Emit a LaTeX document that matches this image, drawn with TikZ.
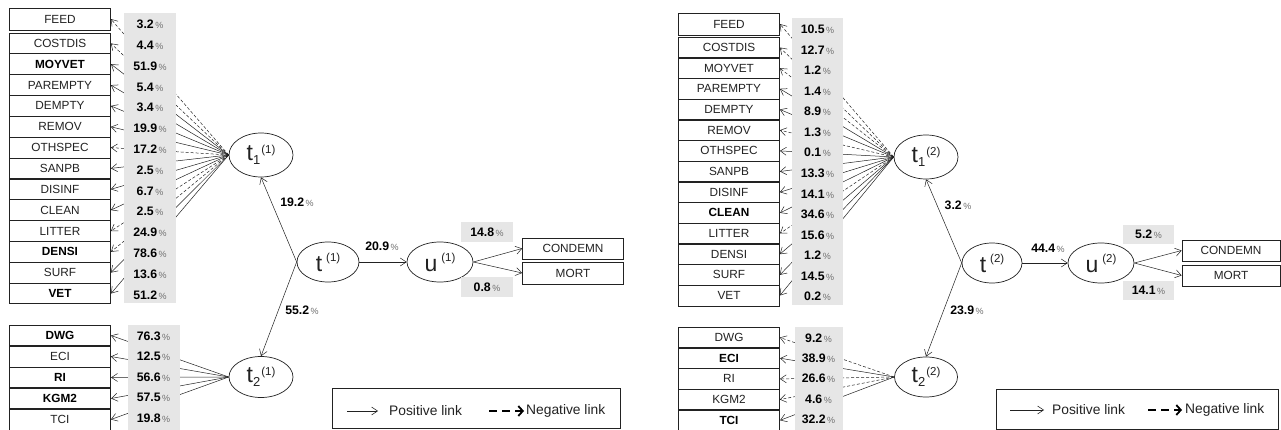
\documentclass[tikz,border=0pt]{standalone}
\usepackage{fontspec}
\setmainfont{Liberation Sans}
\usetikzlibrary{shapes.geometric,arrows.meta}
\definecolor{greyfill}{HTML}{E6E6E6}
\definecolor{inkc}{HTML}{222222}
\definecolor{pctgrey}{HTML}{707070}
\newcommand{\pct}[1]{\textbf{#1}{\fontsize{9}{9}\selectfont\color{pctgrey}\,\%}}
\newcommand{\latsub}[3]{{\fontsize{23}{23}\selectfont #1}\raisebox{-3.5pt}{\fontsize{13}{13}\selectfont #2}\hspace{1pt}\raisebox{7pt}{\fontsize{11.5}{11.5}\selectfont #3}}
\newcommand{\latsup}[2]{{\fontsize{23}{23}\selectfont #1}\hspace{4pt}\raisebox{10pt}{\fontsize{11.5}{11.5}\selectfont #2}}
\tikzset{
 varbox/.style={draw=inkc, line width=0.7pt, minimum width=101pt, minimum height=20.8pt, inner sep=0pt, font=\fontsize{11.8}{11.8}\selectfont, text=inkc},
 boldbox/.style={varbox, line width=1.1pt, font=\fontsize{11.8}{11.8}\selectfont\bfseries, text=black},
 lat/.style={ellipse, draw=inkc, line width=0.7pt, inner sep=0pt, minimum width=64pt, minimum height=44pt, text=inkc},
 pctlab/.style={font=\fontsize{12.3}{12.3}\selectfont, inner sep=0pt, text=black},
 pctbox/.style={pctlab, fill=greyfill, minimum width=52pt, minimum height=20pt},
 link/.style={draw=inkc, line width=0.5pt, -{Straight Barb[length=6pt,width=8pt]}},
 neg/.style={link, dash pattern=on 3pt off 2pt},
 legtext/.style={anchor=west, font=\fontsize{13.8}{13.8}\selectfont, text=inkc, inner sep=0pt},
 legbox/.style={draw=inkc, line width=0.7pt, inner sep=0pt, minimum height=40pt},
 negleg/.style={draw=black, line width=1.8pt, dash pattern=on 8pt off 5pt, -{Straight Barb[length=4.5pt,width=10pt]}},
}
\begin{document}
\begin{tikzpicture}[x=1pt,y=-1pt]
\useasboundingbox (0,0) rectangle (1281,430);
\fill[white] (0,0) rectangle (1281,430);

% ---------------- LEFT PANEL ----------------
\node[varbox, minimum height=22pt] (Lfeed) at (60,19) {FEED};
\node[varbox] (Lcostdis) at (60,43.4) {COSTDIS};
\node[boldbox] (Lmoyvet) at (60,64.2) {MOYVET};
\node[varbox] (Lparempty) at (60,85.1) {PAREMPTY};
\node[varbox] (Ldempty) at (60,105.9) {DEMPTY};
\node[varbox] (Lremov) at (60,126.8) {REMOV};
\node[varbox] (Lothspec) at (60,147.6) {OTHSPEC};
\node[varbox] (Lsanpb) at (60,168.4) {SANPB};
\node[varbox] (Ldisinf) at (60,189.3) {DISINF};
\node[varbox] (Lclean) at (60,210.1) {CLEAN};
\node[varbox] (Llitter) at (60,231.0) {LITTER};
\node[boldbox] (Ldensi) at (60,251.8) {DENSI};
\node[varbox] (Lsurf) at (60,272.6) {SURF};
\node[boldbox] (Lvet) at (60,293.5) {VET};

\node[boldbox] (Ldwg) at (60,335.5) {DWG};
\node[varbox] (Leci) at (60,356.5) {ECI};
\node[boldbox] (Lri) at (60,377.5) {RI};
\node[boldbox] (Lkgm) at (60,398.5) {KGM2};
\node[varbox] (Ltci) at (60,419.5) {TCI};

\node[lat] (Lt1) at (261,155) {\latsub{t}{1}{(1)}};
\node[lat, minimum width=62pt, minimum height=40pt] (Lt) at (328,262) {\latsup{t}{(1)}};
\node[lat, minimum width=66pt, minimum height=40pt] (Lu) at (440,262) {\latsup{u}{(1)}};
\node[lat, minimum height=41pt] (Lt2) at (261,377) {\latsub{t}{2}{(1)}};

\node[varbox] (Lcond) at (573,248.5) {CONDEMN};
\node[varbox, minimum height=22pt] (Lmort) at (573,273) {MORT};

\draw[neg] (Lt1.west) -- (Lfeed.east);
\draw[neg] (Lt1.west) -- (Lcostdis.east);
\draw[link] (Lt1.west) -- (Lmoyvet.east);
\draw[link] (Lt1.west) -- (Lparempty.east);
\draw[link] (Lt1.west) -- (Ldempty.east);
\draw[link] (Lt1.west) -- (Lremov.east);
\draw[neg] (Lt1.west) -- (Lothspec.east);
\draw[link] (Lt1.west) -- (Lsanpb.east);
\draw[link] (Lt1.west) -- (Ldisinf.east);
\draw[link] (Lt1.west) -- (Lclean.east);
\draw[neg] (Lt1.west) -- (Llitter.east);
\draw[neg] (Lt1.west) -- (Ldensi.east);
\draw[link] (Lt1.west) -- (Lsurf.east);
\draw[link] (Lt1.west) -- (Lvet.east);

\draw[link] (Lt2.west) -- (Ldwg.east);
\draw[link] (Lt2.west) -- (Leci.east);
\draw[link] (Lt2.west) -- (Lri.east);
\draw[link] (Lt2.west) -- (Lkgm.east);
\draw[link] (Lt2.west) -- (Ltci.east);

\draw[link] (Lt.west) -- (Lt1.south);
\draw[link] (Lt.west) -- (Lt2.north);
\draw[link] (Lt.east) -- (Lu.west);
\draw[link] (Lu.east) -- (Lcond.west);
\draw[link] (Lu.east) -- (Lmort.west);

\fill[greyfill] (124,13) rectangle (176,303);
\fill[greyfill] (128,325) rectangle (180,431);

\node[pctlab] (Lp1) at (150,24.5) {\pct{3.2}};
\node[pctlab] (Lp2) at (150,45.3) {\pct{4.4}};
\node[pctlab] (Lp3) at (150,66.1) {\pct{51.9}};
\node[pctlab] (Lp4) at (150,86.9) {\pct{5.4}};
\node[pctlab] (Lp5) at (150,107.7) {\pct{3.4}};
\node[pctlab] (Lp6) at (150,128.5) {\pct{19.9}};
\node[pctlab] (Lp7) at (150,149.3) {\pct{17.2}};
\node[pctlab] (Lp8) at (150,170.1) {\pct{2.5}};
\node[pctlab] (Lp9) at (150,190.9) {\pct{6.7}};
\node[pctlab] (Lp10) at (150,211.7) {\pct{2.5}};
\node[pctlab] (Lp11) at (150,232.5) {\pct{24.9}};
\node[pctlab] (Lp12) at (150,253.3) {\pct{78.6}};
\node[pctlab] (Lp13) at (150,274.1) {\pct{13.6}};
\node[pctlab] (Lp14) at (150,294.9) {\pct{51.2}};

\node[pctlab] (Lq1) at (153.5,336) {\pct{76.3}};
\node[pctlab] (Lq2) at (153.5,356.6) {\pct{12.5}};
\node[pctlab] (Lq3) at (153.5,377.2) {\pct{56.6}};
\node[pctlab] (Lq4) at (153.5,397.8) {\pct{57.5}};
\node[pctlab] (Lq5) at (153.5,418.4) {\pct{19.8}};

\node[pctlab] (Le1) at (297,202) {\pct{19.2}};
\node[pctlab] (Le2) at (382,246) {\pct{20.9}};
\node[pctlab] (Le3) at (302,310) {\pct{55.2}};
\node[pctbox] (Lpc) at (487,232) {\pct{14.8}};
\node[pctbox] (Lpm) at (487,287) {\pct{0.8}};

\node[legbox, minimum width=288pt] (Lleg) at (476,408) {};
\coordinate (LlegA) at (347,411);
\coordinate (LlegB) at (378,411);
\draw[link] (LlegA) -- (LlegB);
\node[legtext] (LlegPos) at (389,411) {Positive link};
\coordinate (LlegC) at (489,411);
\coordinate (LlegD) at (524,411);
\draw[negleg] (LlegC) -- (LlegD);
\node[legtext] (LlegNeg) at (526,411) {Negative link};

% ---------------- RIGHT PANEL ----------------
\node[varbox, minimum height=22pt] (Rfeed) at (729,24) {FEED};
\node[varbox] (Rcostdis) at (729,47.5) {COSTDIS};
\node[varbox] (Rmoyvet) at (729,68.2) {MOYVET};
\node[varbox] (Rparempty) at (729,88.8) {PAREMPTY};
\node[varbox] (Rdempty) at (729,109.5) {DEMPTY};
\node[varbox] (Rremov) at (729,130.2) {REMOV};
\node[varbox] (Rothspec) at (729,150.9) {OTHSPEC};
\node[varbox] (Rsanpb) at (729,171.5) {SANPB};
\node[varbox] (Rdisinf) at (729,192.2) {DISINF};
\node[boldbox] (Rclean) at (729,212.9) {CLEAN};
\node[varbox] (Rlitter) at (729,233.5) {LITTER};
\node[varbox] (Rdensi) at (729,254.2) {DENSI};
\node[varbox] (Rsurf) at (729,274.9) {SURF};
\node[varbox] (Rvet) at (729,295.5) {VET};

\node[varbox] (Rdwg) at (729,337.5) {DWG};
\node[boldbox] (Reci) at (729,358.2) {ECI};
\node[varbox] (Rri) at (729,378.9) {RI};
\node[varbox] (Rkgm) at (729,399.6) {KGM2};
\node[boldbox] (Rtci) at (729,420.3) {TCI};

\node[lat] (Rt1) at (926,157) {\latsub{t}{1}{(2)}};
\node[lat, minimum width=60pt, minimum height=40pt] (Rt) at (992,263) {\latsup{t}{(2)}};
\node[lat, minimum width=66pt, minimum height=40pt] (Ru) at (1101,263) {\latsup{u}{(2)}};
\node[lat, minimum width=63pt, minimum height=40pt] (Rt2) at (926,377) {\latsub{t}{2}{(2)}};

\node[varbox, minimum width=98pt] (Rcond) at (1231,250.5) {CONDEMN};
\node[varbox, minimum width=98pt, minimum height=21pt] (Rmort) at (1231,275.5) {MORT};

\draw[neg] (Rt1.west) -- (Rfeed.east);
\draw[neg] (Rt1.west) -- (Rcostdis.east);
\draw[neg] (Rt1.west) -- (Rmoyvet.east);
\draw[link] (Rt1.west) -- (Rparempty.east);
\draw[link] (Rt1.west) -- (Rdempty.east);
\draw[neg] (Rt1.west) -- (Rremov.east);
\draw[link] (Rt1.west) -- (Rothspec.east);
\draw[link] (Rt1.west) -- (Rsanpb.east);
\draw[link] (Rt1.west) -- (Rdisinf.east);
\draw[link] (Rt1.west) -- (Rclean.east);
\draw[neg] (Rt1.west) -- (Rlitter.east);
\draw[link] (Rt1.west) -- (Rdensi.east);
\draw[link] (Rt1.west) -- (Rsurf.east);
\draw[link] (Rt1.west) -- (Rvet.east);

\draw[neg] (Rt2.west) -- (Rdwg.east);
\draw[link] (Rt2.west) -- (Reci.east);
\draw[neg] (Rt2.west) -- (Rri.east);
\draw[neg] (Rt2.west) -- (Rkgm.east);
\draw[link] (Rt2.west) -- (Rtci.east);

\draw[link] (Rt.west) -- (Rt1.south);
\draw[link] (Rt.west) -- (Rt2.north);
\draw[link] (Rt.east) -- (Ru.west);
\draw[link] (Ru.east) -- (Rcond.west);
\draw[link] (Ru.east) -- (Rmort.west);

\fill[greyfill] (792,18) rectangle (843,305);
\fill[greyfill] (795,327) rectangle (843,431);

\node[pctlab] (Rp1) at (817.5,29.3) {\pct{10.5}};
\node[pctlab] (Rp2) at (817.5,49.9) {\pct{12.7}};
\node[pctlab] (Rp3) at (817.5,70.4) {\pct{1.2}};
\node[pctlab] (Rp4) at (817.5,91.0) {\pct{1.4}};
\node[pctlab] (Rp5) at (817.5,111.6) {\pct{8.9}};
\node[pctlab] (Rp6) at (817.5,132.2) {\pct{1.3}};
\node[pctlab] (Rp7) at (817.5,152.7) {\pct{0.1}};
\node[pctlab] (Rp8) at (817.5,173.3) {\pct{13.3}};
\node[pctlab] (Rp9) at (817.5,193.9) {\pct{14.1}};
\node[pctlab] (Rp10) at (817.5,214.4) {\pct{34.6}};
\node[pctlab] (Rp11) at (817.5,235.0) {\pct{15.6}};
\node[pctlab] (Rp12) at (817.5,255.6) {\pct{1.2}};
\node[pctlab] (Rp13) at (817.5,276.1) {\pct{14.5}};
\node[pctlab] (Rp14) at (817.5,296.7) {\pct{0.2}};

\node[pctlab] (Rq1) at (818.5,338) {\pct{9.2}};
\node[pctlab] (Rq2) at (818.5,358.3) {\pct{38.9}};
\node[pctlab] (Rq3) at (818.5,378.6) {\pct{26.6}};
\node[pctlab] (Rq4) at (818.5,398.9) {\pct{4.6}};
\node[pctlab] (Rq5) at (818.5,419.2) {\pct{32.2}};

\node[pctlab] (Re1) at (958,205) {\pct{3.2}};
\node[pctlab] (Re2) at (1048,248) {\pct{44.4}};
\node[pctlab] (Re3) at (967,310) {\pct{23.9}};
\node[pctbox, minimum width=51pt, minimum height=19pt] (Rpc) at (1148.5,234.5) {\pct{5.2}};
\node[pctbox, minimum width=51pt, minimum height=19pt] (Rpm) at (1148.5,290) {\pct{14.1}};

\node[legbox, minimum width=282pt] (Rleg) at (1137,409) {};
\coordinate (RlegA) at (1010,410);
\coordinate (RlegB) at (1044,410);
\draw[link] (RlegA) -- (RlegB);
\node[legtext] (RlegPos) at (1052,410) {Positive link};
\coordinate (RlegC) at (1148,410);
\coordinate (RlegD) at (1182,410);
\draw[negleg] (RlegC) -- (RlegD);
\node[legtext] (RlegNeg) at (1185,410) {Negative link};
\end{tikzpicture}
\end{document}
